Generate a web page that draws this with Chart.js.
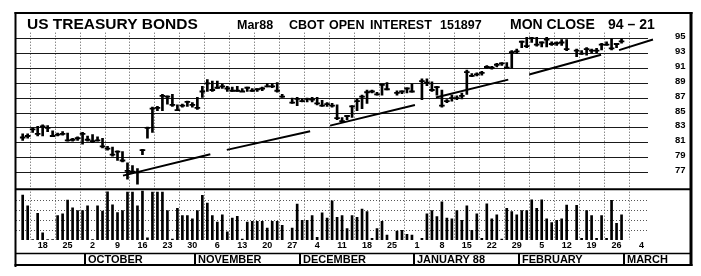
<!DOCTYPE html>
<html><head><meta charset="utf-8">
<script src="https://cdn.jsdelivr.net/npm/chart.js@4.4.1/dist/chart.umd.min.js"></script>
<style>html,body{margin:0;padding:0;background:#fff;}canvas{display:block;}</style>
</head><body>
<canvas id="c" width="701" height="276"></canvas>
<script>
// Trading-day slots (weekdays) from Mon 14 Sep 1987 (slot 0) to Mon 29 Feb 1988 (slot 120); null = holiday
const highs = [
 82.2,82.2,83.0,83.2,83.4,83.3,82.6,82.3,82.5,82.3,
 81.6,81.8,82.4,81.9,82.1,81.8,81.6,80.5,80.4,79.9,
 79.8,78.3,77.9,77.5,80.1,83.1,85.8,85.9,87.5,87.3,
 87.5,86.1,86.2,86.6,86.4,87.1,88.6,89.5,89.3,89.3,
 88.9,88.6,88.5,88.6,88.3,88.5,88.3,88.3,88.5,89.0,
 89.0,89.1,87.5,null,87.0,87.1,86.9,87.0,87.1,87.1,
 86.7,86.4,86.3,86.1,84.4,84.7,86.0,86.9,87.4,88.1,
 88.1,87.8,88.9,89.1,null,88.0,88.0,88.4,88.9,null,
 89.6,89.6,89.2,88.6,88.1,86.8,87.4,87.3,87.7,90.8,
 90.3,90.4,90.6,91.4,91.3,91.7,91.8,91.8,93.4,93.6,
 94.7,95.2,95.2,95.2,94.6,95.2,94.6,94.6,94.9,94.9,
 null,93.6,93.4,93.8,93.6,93.7,94.4,94.6,95.0,94.4,95.0];
const lows = [
 81.3,81.6,82.4,81.9,81.9,82.5,81.8,81.9,82.0,81.2,
 81.2,81.3,80.8,81.2,81.0,81.2,80.3,80.0,79.2,78.6,
 78.4,76.1,77.0,75.4,79.4,81.6,82.4,85.3,85.3,86.2,
 85.9,85.3,85.8,85.9,85.8,85.5,87.1,87.9,87.9,88.3,
 88.3,87.9,87.9,87.9,87.9,87.9,87.9,87.9,88.0,88.5,
 88.4,87.8,87.1,null,86.3,86.0,86.5,86.5,86.5,86.1,
 85.9,85.9,85.8,84.1,83.7,84.1,84.4,85.3,85.6,86.3,
 87.7,87.4,87.4,88.1,null,87.4,87.6,87.7,87.8,null,
 86.8,88.7,87.9,87.4,85.8,86.4,86.6,86.8,86.9,87.5,
 89.9,90.0,90.1,91.0,90.9,91.2,91.4,91.0,91.0,93.0,
 93.8,93.8,94.5,94.0,93.9,93.9,94.1,94.1,94.1,93.4,
 null,92.6,92.9,92.8,93.1,93.1,93.5,94.1,93.5,93.8,94.4];
const closes = [
 81.7,81.9,82.8,82.2,83.2,83.0,81.9,82.1,82.2,81.3,
 81.4,81.6,82.2,81.4,81.2,81.3,80.5,80.2,79.4,79.8,
 78.6,77.2,77.1,77.0,80.0,83.0,85.6,85.7,87.3,87.2,
 86.1,85.4,86.0,86.5,86.1,85.7,87.9,89.0,88.1,88.4,
 88.6,88.3,88.0,88.0,87.9,88.4,88.0,88.2,88.3,88.6,
 88.6,88.0,87.2,null,86.4,86.9,86.6,86.9,86.8,86.3,
 86.0,86.2,86.0,84.3,83.9,84.6,85.9,86.6,87.2,87.8,
 87.9,87.5,88.8,88.2,null,87.7,87.9,88.3,87.9,null,
 89.3,89.1,88.1,88.5,86.0,86.6,87.0,87.0,87.3,90.5,
 90.0,90.2,90.4,91.2,91.1,91.5,91.7,91.1,93.2,93.3,
 94.6,94.0,95.1,94.2,94.5,94.9,94.3,94.4,94.5,93.6,
 null,93.4,93.0,93.6,93.4,93.4,94.2,94.2,93.7,94.3,94.66];
const volumes = [
 460000,350000,5000,273000,73000,5000,5000,250000,267000,407000,
 330000,300000,300000,350000,5000,350000,295000,493000,360000,280000,
 300000,490000,490000,350000,500000,23000,490000,490000,490000,300000,
 10000,323000,250000,250000,217000,300000,457000,377000,250000,183000,
 257000,83000,223000,243000,10000,183000,190000,190000,190000,123000,
 190000,190000,150000,null,123000,367000,200000,200000,250000,27000,
 277000,223000,400000,233000,250000,117000,250000,233000,317000,290000,
 17000,117000,190000,50000,null,90000,100000,57000,50000,null,
 17000,267000,300000,240000,390000,225000,217000,300000,200000,350000,
 100000,267000,17000,370000,217000,257000,10000,325000,290000,257000,
 300000,300000,410000,323000,410000,217000,177000,200000,217000,357000,
 null,355000,17000,300000,250000,17000,250000,17000,405000,170000,257000];
// Trendline segments: start/end slot and price
const trendStartX = [20.1, 40.9, 61.6, 82.8, 101.5, 119.5];
const trendStartY = [76.56, 80.03, 83.3, 87.1, 90.2, 93.47];
const trendEndX   = [37.6, 57.6, 78.6, 97.3, 115.9, 126.3];
const trendEndY   = [79.44, 82.53, 86.07, 89.5, 92.86, 94.9];
// Weekly (Friday) date ticks
const fridaySlots = [4,9,14,19,24,29,34,39,44,49,54,59,64,69,74,79,84,89,94,99,104,109,114,119,124];
const dateLabels = ['18','25','2','9','16','23','30','6','13','20','27','4','11','18','25','1','8','15','22','29','5','12','19','26','4'];
const monthStarts = [12.5, 34.5, 55.5, 78.5, 99.5, 120.5];
const monthNames = ['OCTOBER','NOVEMBER','DECEMBER','JANUARY 88','FEBRUARY','MARCH'];
const priceTicks = [77,79,81,83,85,87,89,91,93,95];
const volumeTicks = [100000,200000,300000,400000];
const volumeLabelValue = 440000;

const FONT = "'Liberation Sans', Arial, Helvetica, sans-serif";

const rangeBars = [], closePts = [], volBars = [];
highs.forEach((h, i) => {
  if (h != null) { rangeBars.push({x: i, y: [lows[i], h]}); closePts.push({x: i, y: closes[i]}); }
  if (volumes[i] != null) volBars.push({x: i, y: volumes[i]});
});
const trendPts = [];
trendStartX.forEach((sx, k) => {
  trendPts.push({x: sx, y: trendStartY[k]});
  trendPts.push({x: trendEndX[k], y: trendEndY[k]});
  trendPts.push({x: trendEndX[k] + 0.01, y: null});
});

function seg(ctx, x1, y1, x2, y2, w) {
  ctx.lineWidth = w; ctx.beginPath(); ctx.moveTo(x1, y1); ctx.lineTo(x2, y2); ctx.stroke();
}

const framePlugin = {
  id: 'frame',
  afterDraw(chart) {
    const ctx = chart.ctx, xs = chart.scales.x, yv = chart.scales.yv;
    ctx.save();
    ctx.strokeStyle = '#000'; ctx.fillStyle = '#000';
    const L = 15.5, R = 691, T = 13, B = 265;
    seg(ctx, L - 1, T, R + 1.5, T, 2);
    seg(ctx, L, T - 1, L, B + 2, 2);
    seg(ctx, R, T - 1, R, B + 1, 3);
    seg(ctx, L - 1, B, R + 1.5, B, 2);
    const ySep = yv.getPixelForValue(520000);
    seg(ctx, L, ySep, R, ySep, 2);
    const mTop = 253.5;
    seg(ctx, L, mTop, R, mTop, 1.6);
    ctx.textBaseline = 'alphabetic'; ctx.textAlign = 'left';
    ctx.font = 'bold 11px ' + FONT;
    monthStarts.forEach((m, k) => {
      const px = Math.round(xs.getPixelForValue(m));
      seg(ctx, px, mTop, px, B, 2);
      ctx.fillText(monthNames[k], px + 3, 263);
    });
    // title row
    const base = 28.5;
    ctx.font = 'bold 15.5px ' + FONT;
    ctx.fillText('US TREASURY BONDS', 27, base);
    ctx.font = 'bold 12.5px ' + FONT;
    ctx.fillText('Mar88', 237, base);
    ctx.fillText('CBOT', 289, base);
    ctx.fillText('OPEN', 329, base);
    ctx.fillText('INTEREST', 370, base);
    ctx.fillText('151897', 440, base);
    ctx.font = 'bold 14px ' + FONT;
    ctx.fillText('MON CLOSE', 510, base);
    ctx.fillText('94 \u2013 21', 608, base);
    ctx.restore();
  }
};

new Chart(document.getElementById('c'), {
  type: 'bar',
  data: { datasets: [
    {type: 'bar', data: rangeBars, yAxisID: 'y', backgroundColor: '#000', barThickness: 2, grouped: false},
    {type: 'scatter', data: closePts, yAxisID: 'y', pointStyle: 'line', pointRadius: 2.8, pointBorderWidth: 1.8,
     pointBorderColor: '#000', borderColor: '#000', backgroundColor: '#000'},
    {type: 'bar', data: volBars, yAxisID: 'yv', backgroundColor: '#000', barThickness: 2, grouped: false},
    {type: 'line', data: trendPts, yAxisID: 'y', borderColor: '#000', borderWidth: 2, pointRadius: 0,
     spanGaps: false, clip: 10, tension: 0}
  ]},
  options: {
    responsive: false, animation: false, devicePixelRatio: 1, events: [],
    layout: {padding: {top: 28, left: 16, right: 0, bottom: 0}},
    plugins: {legend: {display: false}, tooltip: {enabled: false}, title: {display: false}},
    scales: {
      x: {
        type: 'linear', position: 'bottom', min: -1.34, max: 125.3, offset: false,
        afterBuildTicks: s => { s.ticks = fridaySlots.map(v => ({value: v})); },
        afterFit: s => { s.height = 36; },
        grid: {color: '#555', lineWidth: 1, drawTicks: false},
        border: {display: false, dash: [1, 2]},
        ticks: {autoSkip: false, maxRotation: 0, minRotation: 0, padding: 0, color: '#000',
          font: {family: FONT, size: 9, weight: 'bold'},
          callback: (v, i) => dateLabels[i]}
      },
      y: {
        type: 'linear', position: 'right', weight: 1, min: 67.89, max: 95.82,
        afterBuildTicks: s => { s.ticks = priceTicks.map(v => ({value: v})); },
        afterFit: s => { s.width = 53; },
        grid: {color: '#1a1a1a', lineWidth: 1, drawTicks: false},
        border: {display: false},
        ticks: {padding: 27, labelOffset: -2, color: '#000',
          font: {family: FONT, size: 9.5, weight: 'bold'},
          callback: v => String(v)}
      },
      yv: {
        type: 'linear', position: 'right', weight: 0, min: 0, max: 2120000,
        afterBuildTicks: s => { s.ticks = volumeTicks.concat([volumeLabelValue]).map(v => ({value: v})); },
        afterFit: s => { s.width = 0; },
        grid: {color: c => (c.tick && c.tick.value === volumeLabelValue) ? 'rgba(0,0,0,0)' : '#555',
          lineWidth: 1, drawTicks: false},
        border: {display: false, dash: [1, 2]},
        ticks: {padding: 0, crossAlign: 'far', color: '#000',
          font: {family: FONT, size: 9, weight: 'bold'},
          callback: v => v === volumeLabelValue ? 'VOLUME' : (v === 400000 ? '' : String(v))}
      }
    }
  },
  plugins: [framePlugin]
});
</script>
</body></html>
